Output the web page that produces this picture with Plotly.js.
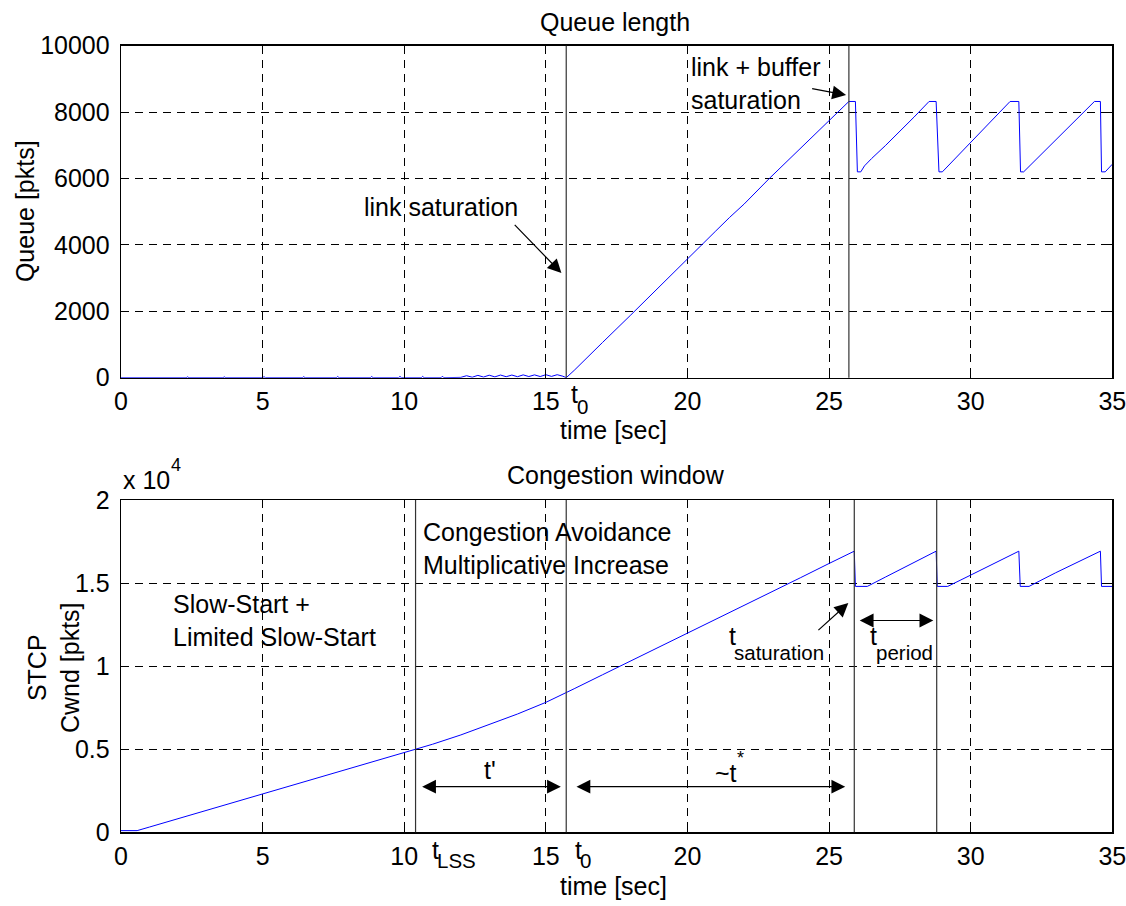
<!DOCTYPE html>
<html><head><meta charset="utf-8">
<script src="https://cdn.plot.ly/plotly-3.0.1.min.js"></script>
<style>html,body{margin:0;padding:0;background:#fff}#chart{width:1126px;height:906px}</style>
</head><body><div id="chart"></div>
<script>
// ---- Queue length (top panel) ----
const queueTime = [
  0, 2.3, 2.35, 2.4, 3.6, 3.65, 3.7, 5.0, 5.05, 5.1, 6.4, 6.45, 6.5, 7.6, 7.65, 7.7, 8.8, 8.85, 8.9, 9.8, 9.85, 9.9, 10.6, 10.65, 10.7, 11.3, 11.35, 11.4,
  12.0, 12.2, 12.4, 12.6, 12.8, 13.0, 13.2, 13.4, 13.6, 13.8, 14.0, 14.2, 14.4, 14.6, 14.8, 15.0, 15.2, 15.4, 15.6,
  15.72, 16.0, 16.47, 17, 18, 19, 19.14, 20, 21, 21.49, 22, 22.89, 23.5, 24.09, 25, 25.70,
  25.93, 26.0, 26.12, 26.25, 26.5, 27, 28, 28.53, 28.78, 28.88, 29.0, 30, 31, 31.2, 31.39, 31.7, 31.76, 31.87, 33, 34, 34.1, 34.37, 34.58, 34.62, 34.75, 35
];
const queueValue = [
  0, 0, 25, 0, 0, 25, 0, 0, 30, 0, 0, 30, 0, 0, 35, 0, 0, 35, 0, 0, 40, 0, 0, 40, 0, 0, 45, 0,
  10, 60, 15, 70, 20, 75, 25, 80, 30, 80, 30, 85, 35, 85, 35, 90, 40, 90, 45,
  0, 220, 630, 1060, 1890, 2740, 2860, 3600, 4420, 4830, 5230, 6000, 6500, 7010, 7740, 8320,
  8320, 6200, 6200, 6380, 6600, 7000, 7850, 8320, 8320, 6200, 6200, 7090, 7980, 8150, 8320, 8320, 6200, 6200, 7160, 8010, 8090, 8320, 8320, 6200, 6200, 6430
];
// ---- Congestion window (bottom panel) ----
const cwndTime = [
  0, 0.57, 1, 2, 3, 4, 5, 6, 7, 8, 9, 10,
  10.45, 11, 12, 13, 14, 15, 15.7,
  16, 17, 18, 19, 20, 21, 22, 23, 24, 25,
  25.89, 25.93, 26.35, 27, 28, 28.78,
  28.82, 29.19, 30, 31, 31.7,
  31.75, 32.06, 33, 34, 34.58,
  34.62, 35
];
const cwndValue = [
  100, 100, 314, 810, 1310, 1800, 2300, 2790, 3280, 3780, 4280, 4790,
  5000, 5300, 5860, 6480, 7120, 7820, 8380,
  8640, 9480, 10310, 11140, 11960, 12800, 13640, 14490, 15330, 16180,
  16920, 14800, 14800, 15370, 16240, 16920,
  14800, 14800, 15480, 16320, 16920,
  14800, 14800, 15620, 16470, 16920,
  14800, 14800
];
const xTicks = [0, 5, 10, 15, 20, 25, 30, 35];
const queueTicks = [0, 2000, 4000, 6000, 8000, 10000];
const queueTickText = ['0', '2000', '4000', '6000', '8000', '10000'];
const cwndTicks = [0, 5000, 10000, 15000, 20000];
const cwndTickText = ['0', '0.5', '1', '1.5', '2'];
const topMarkers = [15.72, 25.70];
const bottomMarkers = [10.40, 15.72, 25.89, 28.80];

const FONT = 'Liberation Sans, Arial, sans-serif';
const FS = 25;
const FSUB = 20.5;
const XDOM = [0.10746, 0.98783];

function xAxis(anchor) {
  return {
    domain: XDOM, anchor: anchor, range: [0, 35],
    tickvals: xTicks, ticks: 'inside', ticklen: 6, tickcolor: '#000',
    showline: true, linecolor: '#000', linewidth: 1.3, mirror: 'ticks',
    showgrid: true, gridcolor: '#000', gridwidth: 1, griddash: '8px,6px',
    zeroline: false, ticklabelstandoff: 1, ticklabeloverflow: 'allow',
    tickfont: {family: FONT, size: FS, color: '#000'}
  };
}
function yAxis(anchor, dom, range, vals, text) {
  return {
    domain: dom, anchor: anchor, range: range,
    tickvals: vals, ticktext: text, ticks: 'inside', ticklen: 6, tickcolor: '#000',
    showline: true, linecolor: '#000', linewidth: 1.3, mirror: 'ticks',
    showgrid: true, gridcolor: '#000', gridwidth: 1, griddash: '8px,6px',
    zeroline: false, ticklabelstandoff: 5, ticklabeloverflow: 'allow',
    tickfont: {family: FONT, size: FS, color: '#000'}
  };
}

const traces = [
  {x: queueTime, y: queueValue, xaxis: 'x', yaxis: 'y', type: 'scatter', mode: 'lines',
   line: {color: '#0000ff', width: 1}, showlegend: false, hoverinfo: 'skip'},
  {x: cwndTime, y: cwndValue, xaxis: 'x2', yaxis: 'y2', type: 'scatter', mode: 'lines',
   line: {color: '#0000ff', width: 1}, showlegend: false, hoverinfo: 'skip'}
];

const shapes = [];
topMarkers.forEach(t => shapes.push({type: 'line', xref: 'x', yref: 'y domain', x0: t, x1: t, y0: 0, y1: 1,
  line: {color: '#333', width: 1.2}}));
bottomMarkers.forEach(t => shapes.push({type: 'line', xref: 'x2', yref: 'y2 domain', x0: t, x1: t, y0: 0, y1: 1,
  line: {color: '#333', width: 1.2}}));

const txt = (o, size) => Object.assign({showarrow: false, xanchor: 'center', yanchor: 'middle',
  font: {family: FONT, size: size || FS, color: '#000'}}, o);
const arrow = (xr, yr, x, y, ax, ay, both) => ({
  xref: xr, yref: yr, axref: xr, ayref: yr, x: x, y: y, ax: ax, ay: ay, text: '',
  showarrow: true, arrowhead: 2, arrowsize: 2.3, arrowwidth: 1.2, arrowcolor: '#000',
  startarrowhead: 2, startarrowsize: 2.3,
  arrowside: both ? 'end+start' : 'end', standoff: 0, startstandoff: 0
});

const annotations = [
  // titles and axis labels
  txt({xref: 'paper', yref: 'paper', x: 0.5465, y: 0.976, text: 'Queue length'}),
  txt({xref: 'paper', yref: 'paper', x: 0.5475, y: 0.4757, text: 'Congestion window'}),
  txt({xref: 'paper', yref: 'paper', x: 0.5445, y: 0.5254, text: 'time [sec]'}),
  txt({xref: 'paper', yref: 'paper', x: 0.5445, y: 0.0221, text: 'time [sec]'}),
  txt({xref: 'paper', yref: 'paper', x: 0.0222, y: 0.767, text: 'Queue [pkts]', textangle: -90}),
  txt({xref: 'paper', yref: 'paper', x: 0.048, y: 0.2627, text: 'STCP<br>Cwnd [pkts]', textangle: -90}),
  txt({xref: 'paper', yref: 'paper', x: 0.1075, y: 0.4702, xanchor: 'left', text: 'x 10'}),
  txt({xref: 'paper', yref: 'paper', x: 0.1505, y: 0.4868, xanchor: 'left', text: '4'}, 18),
  // top panel
  txt({xref: 'x', yref: 'y', x: 11.3, y: 5150, text: 'link saturation'}),
  arrow('x', 'y', 15.55, 3150, 13.85, 4650, false),
  txt({xref: 'x', yref: 'y', x: 20.05, y: 8867, xanchor: 'left', align: 'left', text: 'link + buffer<br>saturation'}),
  arrow('x', 'y', 25.6, 8515, 24.35, 8718, false),
  txt({xref: 'x', yref: 'paper', x: 15.83, y: 0.5651, xanchor: 'left', text: 't'}),
  txt({xref: 'x', yref: 'paper', x: 16.02, y: 0.5515, xanchor: 'left', text: '0'}, FSUB),
  // bottom panel
  txt({xref: 'x2', yref: 'y2', x: 10.6, y: 17088, xanchor: 'left', align: 'left', text: 'Congestion Avoidance<br>Multiplicative Increase'}),
  txt({xref: 'x2', yref: 'y2', x: 1.75, y: 12765, xanchor: 'left', align: 'left', text: 'Slow-Start +<br>Limited Slow-Start'}),
  arrow('x2', 'y2', 15.53, 2747, 10.58, 2747, true),
  txt({xref: 'x2', yref: 'y2', x: 13.04, y: 3720, text: "t'"}),
  arrow('x2', 'y2', 25.57, 2747, 16.03, 2747, true),
  txt({xref: 'x2', yref: 'y2', x: 20.89, y: 3572, xanchor: 'left', text: '~t'}),
  txt({xref: 'x2', yref: 'y2', x: 21.68, y: 4476, xanchor: 'left', text: '*'}, 18),
  arrow('x2', 'y2', 28.68, 12747, 26.03, 12747, true),
  txt({xref: 'x2', yref: 'y2', x: 26.39, y: 11825, xanchor: 'left', text: 't'}),
  txt({xref: 'x2', yref: 'y2', x: 26.59, y: 10825, xanchor: 'left', text: 'period'}, FSUB),
  txt({xref: 'x2', yref: 'y2', x: 21.38, y: 11825, xanchor: 'left', text: 't'}),
  txt({xref: 'x2', yref: 'y2', x: 21.58, y: 10825, xanchor: 'left', text: 'saturation'}, FSUB),
  arrow('x2', 'y2', 25.68, 13795, 24.57, 12085, false),
  txt({xref: 'x2', yref: 'paper', x: 10.91, y: 0.0618, xanchor: 'left', text: 't'}),
  txt({xref: 'x2', yref: 'paper', x: 11.09, y: 0.0497, xanchor: 'left', text: 'LSS'}, FSUB),
  txt({xref: 'x2', yref: 'paper', x: 15.95, y: 0.0618, xanchor: 'left', text: 't'}),
  txt({xref: 'x2', yref: 'paper', x: 16.12, y: 0.0497, xanchor: 'left', text: '0'}, FSUB)
];

const layout = {
  width: 1126, height: 906,
  margin: {l: 0, r: 0, t: 0, b: 0},
  paper_bgcolor: '#fff', plot_bgcolor: '#fff',
  font: {family: FONT, size: FS, color: '#000'},
  xaxis: xAxis('y'),
  yaxis: yAxis('x', [0.58311, 0.94956], [0, 10000], queueTicks, queueTickText),
  xaxis2: xAxis('y2'),
  yaxis2: yAxis('x2', [0.08135, 0.44812], [0, 20000], cwndTicks, cwndTickText),
  shapes: shapes,
  annotations: annotations,
  showlegend: false
};

Plotly.newPlot('chart', traces, layout, {staticPlot: true, displayModeBar: false});
</script></body></html>
